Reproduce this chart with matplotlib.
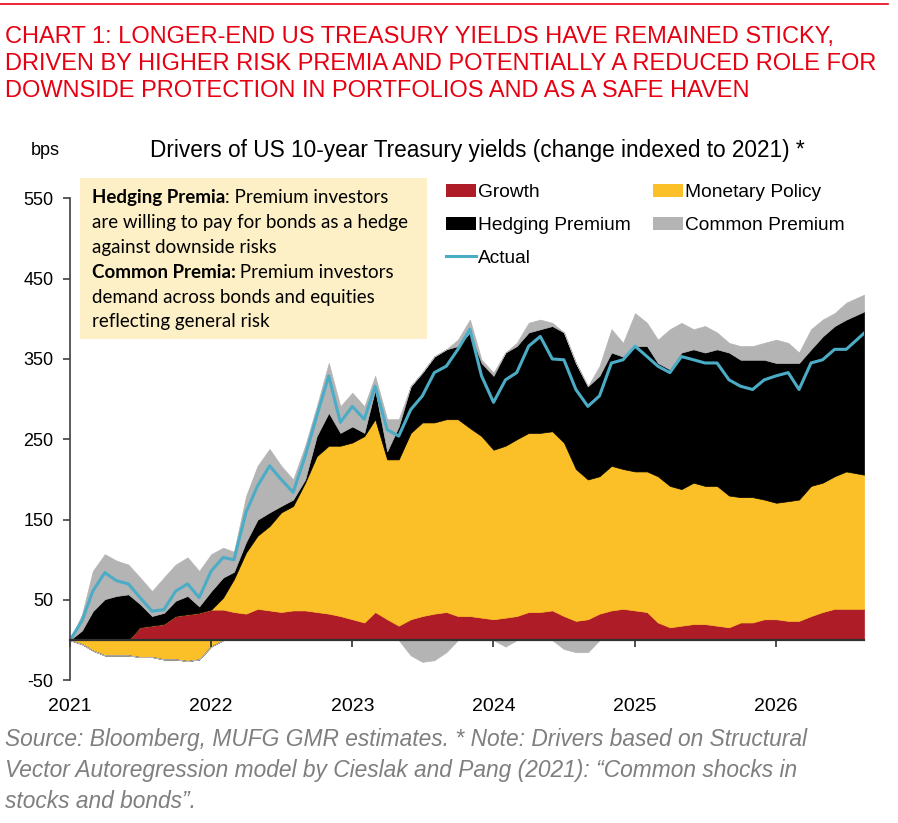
import numpy as np
import pandas as pd
import matplotlib
matplotlib.use('Agg')
import matplotlib.pyplot as plt
from matplotlib.patches import Patch, Rectangle
from matplotlib.lines import Line2D

plt.rcParams['font.family'] = ['Liberation Sans', 'DejaVu Sans']
plt.rcParams['axes.unicode_minus'] = False

# monthly readings (bps, change since start of 2021), last point mid-Aug 2026
dates = list(pd.date_range('2021-01-01', '2026-07-01', freq='MS')) + [pd.Timestamp('2026-08-16')]

growth = [0, 0, 0, 0, 0, 0, 16, 18, 20, 30, 32, 34, 38, 38, 35, 33, 39, 37, 35, 37,
          37, 35, 33, 30, 26, 22, 35, 26, 18, 26, 30, 33, 35, 30, 30, 28, 26, 28, 30, 35,
          35, 37, 30, 24, 26, 33, 37, 39, 37, 35, 22, 16, 18, 20, 20, 18, 16, 22, 22, 26,
          26, 24, 24, 30, 35, 39, 39, 39]
monetary = [0, -5, -13, -19, -19, -19, -21, -21, -24, -24, -26, -24, -8, 15, 41, 76, 91, 105, 124, 130,
            159, 194, 209, 212, 220, 232, 240, 199, 207, 232, 241, 238, 240, 245, 234, 226, 211, 214, 220, 223,
            223, 223, 216, 189, 174, 171, 180, 174, 173, 175, 182, 176, 170, 176, 172, 174, 164, 156, 156, 149,
            145, 149, 151, 162, 161, 165, 171, 167]
hedging = [0, 12, 36, 51, 55, 57, 29, 12, 14, 19, 23, 8, 23, 25, 9, 13, 20, 17, 8, 8,
           4, 25, 41, 16, 20, 4, 37, 10, 41, 58, 62, 82, 87, 91, 119, 91, 92, 116, 116, 125,
           129, 131, 137, 132, 116, 125, 141, 140, 156, 156, 141, 145, 170, 166, 166, 170, 178, 171, 171, 174,
           174, 172, 170, 170, 182, 187, 189, 203]
common = [0, 20, 50, 56, 44, 37, 33, 31, 44, 45, 48, 44, 46, 37, 25, 57, 67, 79, 50, 25,
          42, 37, 62, 33, 42, 33, 17, 40, 9, -19, -27, -25, -15, 8, 16, 4, 4, -8, 4, 12,
          12, 4, -11, -15, -15, 12, 29, 17, 41, 29, 29, 50, 37, 25, 33, 21, 12, 17, 17, 21,
          29, 25, 13, 25, 21, 16, 21, 21]
actual = [0, 24, 61, 84, 74, 70, 53, 36, 38, 61, 70, 53, 86, 103, 100, 159, 192, 217, 200, 184,
          229, 279, 329, 271, 291, 275, 316, 262, 254, 287, 304, 333, 341, 362, 387, 329, 296, 324, 333, 366,
          378, 350, 349, 312, 291, 304, 345, 349, 366, 353, 341, 333, 353, 349, 345, 345, 324, 316, 312, 324,
          329, 333, 312, 345, 349, 362, 362, 382]

names = ['Growth', 'Monetary Policy', 'Hedging Premium', 'Common Premium']
colors = ['#AE1D27', '#FBBF27', '#000000', '#B4B4B4']
line_color = '#4BACC6'
year_ticks = ['2021', '2022', '2023', '2024', '2025', '2026']
y_ticks = [-50, 50, 150, 250, 350, 450, 550]

W, H = 898, 823
fig = plt.figure(figsize=(W / 100, H / 100), dpi=100)
ax = fig.add_axes([70 / W, 1 - 680.3 / H, 794 / W, 482 / H])

# stacked areas, positives up from zero and negatives down from zero
pos_base = np.zeros(len(dates))
neg_base = np.zeros(len(dates))
for vals, col in zip([growth, monetary, hedging, common], colors):
    v = np.array(vals, dtype=float)
    p = np.clip(v, 0, None)
    q = np.clip(v, None, 0)
    ax.fill_between(dates, pos_base, pos_base + p, facecolor=col, edgecolor=col, lw=0.5)
    ax.fill_between(dates, neg_base, neg_base + q, facecolor=col, edgecolor=col, lw=0.5)
    pos_base += p
    neg_base += q
ax.plot(dates, actual, color=line_color, lw=2.2)

ax.set_ylim(-50, 550)
ax.set_xlim(dates[0], dates[-1])
ax.set_yticks(y_ticks)
ax.set_xticks(pd.to_datetime([y + '-01-01' for y in year_ticks]))
ax.set_xticklabels(year_ticks)
ax.spines['top'].set_visible(False)
ax.spines['right'].set_visible(False)
ax.spines['bottom'].set_position(('data', 0))
ax.spines['bottom'].set_color('#303030')
ax.spines['bottom'].set_linewidth(1.6)
ax.spines['bottom'].set_zorder(5)
ax.spines['left'].set_color('#404040')
ax.spines['left'].set_linewidth(1.2)
ax.tick_params(axis='y', length=5, width=1.2, color='#404040', pad=7, labelsize=13)
ax.tick_params(axis='x', length=5, width=1.2, color='#303030', pad=37, labelsize=14)
ax.patch.set_visible(False)

# legend
handles = [Patch(facecolor=colors[0]), Patch(facecolor=colors[2]),
           Line2D([], [], color=line_color, lw=2.2),
           Patch(facecolor=colors[1]), Patch(facecolor=colors[3])]
labels = [names[0], names[2], 'Actual', names[1], names[3]]
fig.legend(handles, labels, ncol=2, loc='upper left', bbox_to_anchor=(446 / W, 1 - 184 / H),
           frameon=False, fontsize=13.8, handlelength=1.56, handleheight=0.68, handletextpad=0.12,
           columnspacing=1.15, labelspacing=0.8, borderpad=0, borderaxespad=0)

# titles and notes
fig.add_artist(Line2D([0, 888 / W], [1 - 4 / H, 1 - 4 / H], color='#E60012', lw=1.2))
header = ['CHART 1: LONGER-END US TREASURY YIELDS HAVE REMAINED STICKY,',
          'DRIVEN BY HIGHER RISK PREMIA AND POTENTIALLY A REDUCED ROLE FOR',
          'DOWNSIDE PROTECTION IN PORTFOLIOS AND AS A SAFE HAVEN']
for i, line in enumerate(header):
    fig.text(5 / W, 1 - (43.5 + 26.6 * i) / H, line, color='#E60012', fontsize=17, va='baseline')

fig.text(150 / W, 1 - 156.7 / H, 'Drivers of US 10-year Treasury yields (change indexed to 2021) *',
         fontsize=16.3, va='baseline')
fig.text(31 / W, 1 - 155 / H, 'bps', fontsize=13, va='baseline')

footer = ['Source: Bloomberg, MUFG GMR estimates. * Note: Drivers based on Structural',
          'Vector Autoregression model by Cieslak and Pang (2021): \u201cCommon shocks in',
          'stocks and bonds\u201d.']
for i, line in enumerate(footer):
    fig.text(5 / W, 1 - (746 + 31 * i) / H, line, color='#7F7F7F', fontsize=16.4,
             style='italic', va='baseline')

# explanation box
fig.add_artist(Rectangle((80 / W, 1 - 339.3 / H), 346.7 / W, 161.6 / H,
                         transform=fig.transFigure, facecolor='#FDEFC6', edgecolor='none'))
box_lines = [('Hedging Premia', ': Premium investors'),
             ('', 'are willing to pay for bonds as a hedge'),
             ('', 'against downside risks'),
             ('Common Premia:', ' Premium investors'),
             ('', 'demand across bonds and equities'),
             ('', 'reflecting general risk')]
renderer = fig.canvas.get_renderer()
for i, (bold, rest) in enumerate(box_lines):
    y = 1 - (203.3 + 24.8 * i) / H
    x = 91.5 / W
    if bold:
        t = fig.text(x, y, bold, family='Lato', weight='bold', fontsize=13.5, va='baseline')
        x += t.get_window_extent(renderer).width / W
    fig.text(x, y, rest, family='Lato', fontsize=13.5, va='baseline')

fig.savefig('out.png', dpi=100)
